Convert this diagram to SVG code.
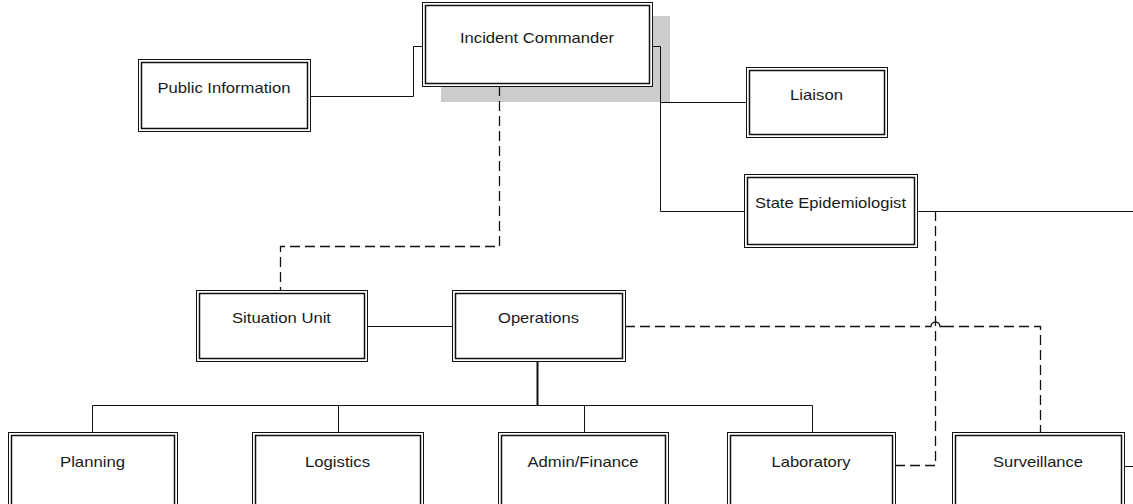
<svg xmlns="http://www.w3.org/2000/svg" width="1133" height="504" viewBox="0 0 1133 504">
  <style>
    .outer { fill: #ffffff; stroke: #111111; stroke-width: 1; }
    .inner { fill: none; stroke: #111111; stroke-width: 1.5; }
    .label { font-family: "Liberation Sans", Arial, sans-serif; font-size: 14.5px; fill: #1a1a1a; text-anchor: middle; }
    .line { fill: none; stroke: #111111; stroke-width: 1; }
    .dash { fill: none; stroke: #111111; stroke-width: 1.3; stroke-dasharray: 10 5; }
    .shadow { fill: #cccccc; }
  </style>

  <rect width="1133" height="504" fill="#ffffff"/>

  <!-- drop shadow behind the commander box -->
  <rect class="shadow" x="441" y="16" width="229" height="86"/>

  <g id="connectors">
    <!-- solid reporting lines -->
    <path class="line" d="M422,46.5 H413.5 V96.5 H310"/>
    <path class="line" d="M652,46.5 H660.5 V211.5 H744"/>
    <path class="line" d="M660,102.5 H746"/>
    <path class="line" d="M917,211.5 H1133"/>
    <path class="line" d="M367,326.5 H452"/>
    <path class="line" d="M537.5,361 V405" style="stroke-width:2"/>
    <path class="line" d="M92.5,432 V405.5 H812.5 V432"/>
    <path class="line" d="M338.5,405 V432"/>
    <path class="line" d="M584.5,405 V432"/>
    <path class="line" d="M1124,466.5 H1133"/>
    <!-- dashed coordination lines -->
    <path class="dash" d="M499.5,86 V246.5 H280.5 V290"/>
    <path class="dash" d="M625,326.5 H926"/>
    <path class="line" d="M926,326.5 H931 A4.5,4.5 0 0 1 940,326.5 H944" style="stroke-width:1.3"/>
    <path class="dash" d="M944,326.5 H1040.5 V432"/>
    <path class="dash" d="M935.5,211 V465.5 H895"/>
  </g>

  <g id="incident-commander">
    <rect class="outer" x="422.5" y="2.5" width="230" height="84"/>
    <rect class="inner" x="425.5" y="5.5" width="224" height="78"/>
    <text class="label" x="537" y="43" textLength="154" lengthAdjust="spacingAndGlyphs">Incident Commander</text>
  </g>

  <g id="public-information">
    <rect class="outer" x="138.5" y="59.5" width="172" height="72"/>
    <rect class="inner" x="141.5" y="62.5" width="166" height="66"/>
    <text class="label" x="224" y="93" textLength="133" lengthAdjust="spacingAndGlyphs">Public Information</text>
  </g>

  <g id="liaison">
    <rect class="outer" x="746.5" y="67.5" width="141" height="70"/>
    <rect class="inner" x="749.5" y="70.5" width="135" height="64"/>
    <text class="label" x="816.5" y="100" textLength="53" lengthAdjust="spacingAndGlyphs">Liaison</text>
  </g>

  <g id="state-epidemiologist">
    <rect class="outer" x="744.5" y="174.5" width="173" height="73"/>
    <rect class="inner" x="747.5" y="177.5" width="167" height="67"/>
    <text class="label" x="830.5" y="208" textLength="151" lengthAdjust="spacingAndGlyphs">State Epidemiologist</text>
  </g>

  <g id="situation-unit">
    <rect class="outer" x="196.5" y="290.5" width="171" height="71"/>
    <rect class="inner" x="199.5" y="293.5" width="165" height="65"/>
    <text class="label" x="281.5" y="323" textLength="99" lengthAdjust="spacingAndGlyphs">Situation Unit</text>
  </g>

  <g id="operations">
    <rect class="outer" x="452.5" y="290.5" width="173" height="71"/>
    <rect class="inner" x="455.5" y="293.5" width="167" height="65"/>
    <text class="label" x="538.5" y="323" textLength="81" lengthAdjust="spacingAndGlyphs">Operations</text>
  </g>

  <g id="planning">
    <rect class="outer" x="8.5" y="432.5" width="169" height="76"/>
    <rect class="inner" x="11.5" y="435.5" width="163" height="70"/>
    <text class="label" x="92.5" y="467" textLength="65" lengthAdjust="spacingAndGlyphs">Planning</text>
  </g>

  <g id="logistics">
    <rect class="outer" x="252.5" y="432.5" width="171" height="76"/>
    <rect class="inner" x="255.5" y="435.5" width="165" height="70"/>
    <text class="label" x="337.5" y="467" textLength="65" lengthAdjust="spacingAndGlyphs">Logistics</text>
  </g>

  <g id="admin-finance">
    <rect class="outer" x="498.5" y="432.5" width="170" height="76"/>
    <rect class="inner" x="501.5" y="435.5" width="164" height="70"/>
    <text class="label" x="583" y="467" textLength="111" lengthAdjust="spacingAndGlyphs">Admin/Finance</text>
  </g>

  <g id="laboratory">
    <rect class="outer" x="727.5" y="432.5" width="168" height="76"/>
    <rect class="inner" x="730.5" y="435.5" width="162" height="70"/>
    <text class="label" x="811" y="467" textLength="79" lengthAdjust="spacingAndGlyphs">Laboratory</text>
  </g>

  <g id="surveillance">
    <rect class="outer" x="952.5" y="432.5" width="172" height="76"/>
    <rect class="inner" x="955.5" y="435.5" width="166" height="70"/>
    <text class="label" x="1038" y="467" textLength="90" lengthAdjust="spacingAndGlyphs">Surveillance</text>
  </g>
</svg>
